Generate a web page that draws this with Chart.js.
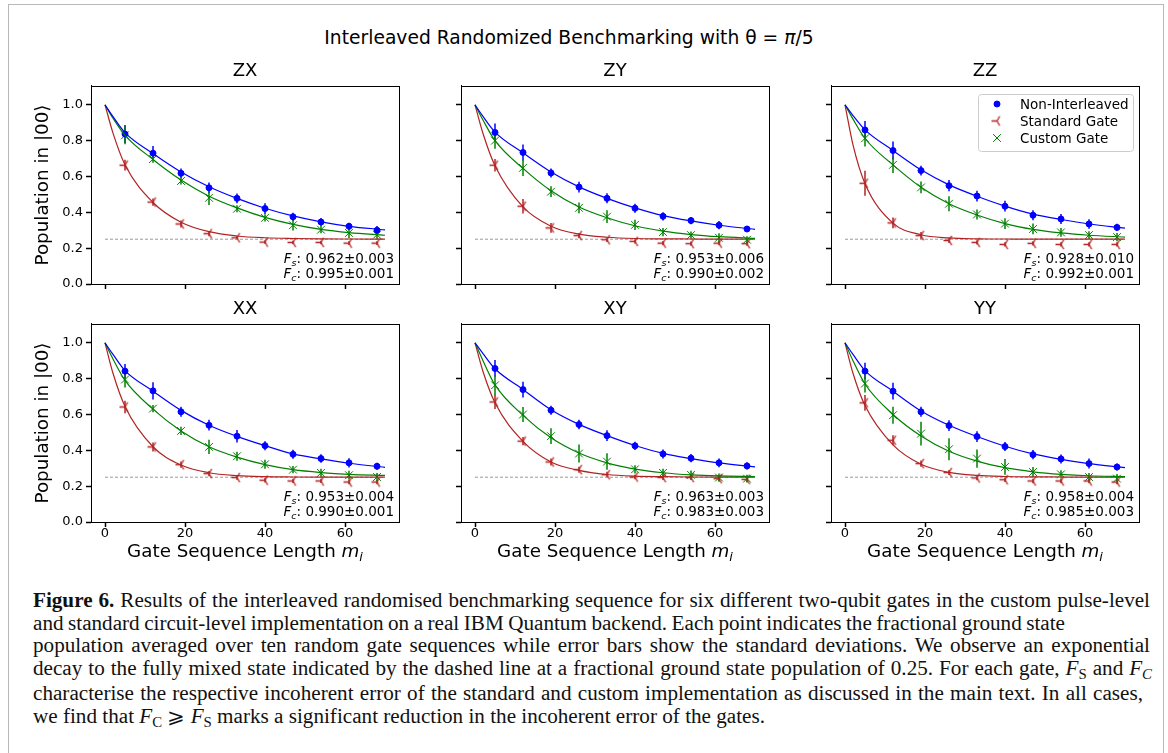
<!DOCTYPE html>
<html>
<head>
<meta charset="utf-8">
<script src="https://cdn.jsdelivr.net/npm/chart.js@4.4.1/dist/chart.umd.min.js"></script>
<style>
  html, body { margin: 0; padding: 0; background: #fff; }
  body { width: 1168px; height: 753px; position: relative; overflow: hidden; font-family: "DejaVu Sans", sans-serif; }
  #frame { position: absolute; left: 8px; top: 4px; width: 1156px; height: 800px; border: 1.5px solid #b8b8b8; box-sizing: border-box; }
  #suptitle { position: absolute; left: 0; width: 1138px; top: 26px; line-height: 24px; text-align: center; font-size: 18.7px; color: #000; }
  canvas { position: absolute; }
  #caption { position: absolute; left: 33px; top: 589px; font-family: "Liberation Serif", serif; font-size: 20px; line-height: 22.6px; color: #111; white-space: nowrap; transform-origin: 0 0; }
  #caption div { width: max-content; }
  #caption sub { font-size: 70%; vertical-align: baseline; position: relative; top: 0.3em; }
</style>
</head>
<body>
<div id="frame"></div>
<div id="suptitle">Interleaved Randomized Benchmarking with θ = <i>π</i>/5</div>
<div id="caption">
  <div><b>Figure 6.</b> Results of the interleaved randomised benchmarking sequence for six different two-qubit gates in the custom pulse-level</div>
  <div>and standard circuit-level implementation on a real IBM Quantum backend. Each point indicates the fractional ground state</div>
  <div>population averaged over ten random gate sequences while error bars show the standard deviations. We observe an exponential</div>
  <div>decay to the fully mixed state indicated by the dashed line at a fractional ground state population of 0.25. For each gate, <i>F</i><sub>S</sub> and <i>F</i><sub><i>C</i></sub></div>
  <div>characterise the respective incoherent error of the standard and custom implementation as discussed in the main text. In all cases,</div>
  <div>we find that <i>F</i><sub>C</sub> ⩾ <i>F</i><sub>S</sub> marks a significant reduction in the incoherent error of the gates.</div>
</div>
<script>
/** INTERLEAVED RB - SIX PANELS **/

var gates = ["ZX", "ZY", "ZZ", "XX", "XY", "YY"];
var seqLengths = [5, 12, 19, 26, 33, 40, 47, 54, 61, 68];
var fitLengths = [0, 2, 5, 12, 19, 26, 33, 40, 47, 54, 61, 70];
var xTicks = [0, 20, 40, 60];
var yTicks = [0, 0.2, 0.4, 0.6, 0.8, 1.0];
var fsLabels = ["0.962±0.003", "0.953±0.006", "0.928±0.010", "0.953±0.004", "0.963±0.003", "0.958±0.004"];
var fcLabels = ["0.995±0.001", "0.990±0.002", "0.992±0.001", "0.990±0.001", "0.983±0.003", "0.985±0.003"];

// ZX
var zxNonInt    = [0.837, 0.730, 0.618, 0.537, 0.478, 0.421, 0.375, 0.346, 0.322, 0.300];
var zxNonIntErr = [0.05, 0.04, 0.027, 0.03, 0.027, 0.03, 0.023, 0.023, 0.02, 0.023];
var zxNonIntFit = [1.0, 0.934, 0.845, 0.728, 0.625, 0.543, 0.478, 0.423, 0.38, 0.347, 0.322, 0.302];
var zxStd       = [0.663, 0.457, 0.335, 0.281, 0.258, 0.234, 0.232, 0.232, 0.228, 0.228];
var zxStdErr    = [0.03, 0.02, 0.02, 0.015, 0.01, 0.01, 0.01, 0.01, 0.01, 0.01];
var zxStdFit    = [1.0, 0.842, 0.665, 0.455, 0.345, 0.292, 0.268, 0.258, 0.254, 0.252, 0.251, 0.25];
var zxCus       = [0.83, 0.697, 0.575, 0.481, 0.42, 0.369, 0.328, 0.303, 0.285, 0.275];
var zxCusErr    = [0.05, 0.02, 0.02, 0.04, 0.02, 0.02, 0.03, 0.02, 0.03, 0.025];
var zxCusFit    = [1.0, 0.925, 0.83, 0.695, 0.58, 0.49, 0.425, 0.372, 0.333, 0.305, 0.287, 0.272];

// ZY
var zyNonInt    = [0.846, 0.734, 0.620, 0.541, 0.478, 0.423, 0.378, 0.354, 0.328, 0.307];
var zyNonIntErr = [0.05, 0.045, 0.025, 0.03, 0.028, 0.025, 0.023, 0.02, 0.023, 0.017];
var zyNonIntFit = [1.0, 0.935, 0.848, 0.732, 0.625, 0.542, 0.478, 0.425, 0.382, 0.352, 0.328, 0.305];
var zyStd       = [0.663, 0.434, 0.313, 0.270, 0.247, 0.238, 0.228, 0.225, 0.228, 0.225];
var zyStdErr    = [0.035, 0.04, 0.027, 0.015, 0.012, 0.012, 0.012, 0.012, 0.012, 0.012];
var zyStdFit    = [1.0, 0.84, 0.66, 0.43, 0.322, 0.278, 0.261, 0.254, 0.252, 0.251, 0.25, 0.25];
var zyCus       = [0.80, 0.648, 0.515, 0.425, 0.376, 0.330, 0.290, 0.273, 0.258, 0.247];
var zyCusErr    = [0.045, 0.045, 0.03, 0.03, 0.035, 0.028, 0.023, 0.02, 0.025, 0.02];
var zyCusFit    = [1.0, 0.915, 0.80, 0.645, 0.52, 0.43, 0.37, 0.325, 0.295, 0.276, 0.264, 0.255];

// ZZ
var zzNonInt    = [0.860, 0.745, 0.633, 0.549, 0.491, 0.434, 0.384, 0.363, 0.335, 0.316];
var zzNonIntErr = [0.05, 0.05, 0.027, 0.032, 0.03, 0.03, 0.028, 0.028, 0.026, 0.02];
var zzNonIntFit = [1.0, 0.94, 0.86, 0.745, 0.637, 0.553, 0.49, 0.435, 0.39, 0.36, 0.335, 0.312];
var zzStd       = [0.562, 0.341, 0.270, 0.243, 0.232, 0.221, 0.227, 0.221, 0.221, 0.221];
var zzStdErr    = [0.07, 0.03, 0.02, 0.014, 0.012, 0.012, 0.012, 0.012, 0.012, 0.012];
var zzStdFit    = [1.0, 0.776, 0.56, 0.34, 0.275, 0.257, 0.252, 0.251, 0.25, 0.25, 0.25, 0.25];
var zzCus       = [0.813, 0.665, 0.539, 0.448, 0.388, 0.337, 0.307, 0.288, 0.273, 0.262];
var zzCusErr    = [0.045, 0.045, 0.033, 0.042, 0.028, 0.03, 0.03, 0.025, 0.022, 0.023];
var zzCusFit    = [1.0, 0.92, 0.812, 0.665, 0.54, 0.448, 0.385, 0.337, 0.305, 0.285, 0.272, 0.262];

// XX
var xxNonInt    = [0.842, 0.732, 0.615, 0.540, 0.479, 0.426, 0.378, 0.354, 0.330, 0.311];
var xxNonIntErr = [0.04, 0.048, 0.028, 0.03, 0.035, 0.025, 0.025, 0.024, 0.026, 0.019];
var xxNonIntFit = [1.0, 0.935, 0.845, 0.73, 0.623, 0.54, 0.478, 0.426, 0.38, 0.352, 0.328, 0.305];
var xxStd       = [0.642, 0.419, 0.320, 0.270, 0.248, 0.233, 0.229, 0.229, 0.223, 0.223];
var xxStdErr    = [0.035, 0.025, 0.017, 0.015, 0.012, 0.012, 0.012, 0.012, 0.012, 0.012];
var xxStdFit    = [1.0, 0.83, 0.645, 0.42, 0.318, 0.275, 0.259, 0.253, 0.251, 0.25, 0.25, 0.25];
var xxCus       = [0.795, 0.633, 0.508, 0.419, 0.367, 0.322, 0.292, 0.274, 0.261, 0.251];
var xxCusErr    = [0.045, 0.02, 0.023, 0.04, 0.025, 0.025, 0.02, 0.023, 0.025, 0.022];
var xxCusFit    = [1.0, 0.91, 0.79, 0.63, 0.508, 0.42, 0.362, 0.32, 0.292, 0.276, 0.266, 0.26];

// XY
var xyNonInt    = [0.857, 0.739, 0.624, 0.544, 0.482, 0.425, 0.380, 0.356, 0.330, 0.313];
var xyNonIntErr = [0.047, 0.044, 0.025, 0.026, 0.03, 0.023, 0.025, 0.023, 0.025, 0.02];
var xyNonIntFit = [1.0, 0.94, 0.855, 0.74, 0.627, 0.545, 0.482, 0.427, 0.383, 0.354, 0.33, 0.308];
var xyStd       = [0.670, 0.451, 0.335, 0.292, 0.264, 0.251, 0.248, 0.248, 0.242, 0.238];
var xyStdErr    = [0.04, 0.023, 0.019, 0.017, 0.016, 0.013, 0.013, 0.013, 0.013, 0.013];
var xyStdFit    = [1.0, 0.84, 0.665, 0.45, 0.335, 0.288, 0.265, 0.256, 0.253, 0.251, 0.25, 0.25];
var xyCus       = [0.763, 0.600, 0.479, 0.382, 0.337, 0.294, 0.274, 0.263, 0.248, 0.242];
var xyCusErr    = [0.055, 0.042, 0.044, 0.05, 0.046, 0.023, 0.023, 0.024, 0.023, 0.021];
var xyCusFit    = [1.0, 0.9, 0.765, 0.595, 0.47, 0.385, 0.33, 0.295, 0.275, 0.263, 0.257, 0.254];

// YY
var yyNonInt    = [0.842, 0.730, 0.615, 0.538, 0.477, 0.421, 0.376, 0.352, 0.326, 0.307];
var yyNonIntErr = [0.047, 0.047, 0.028, 0.03, 0.03, 0.025, 0.026, 0.025, 0.028, 0.019];
var yyNonIntFit = [1.0, 0.935, 0.845, 0.73, 0.62, 0.54, 0.477, 0.423, 0.38, 0.35, 0.326, 0.303];
var yyStd       = [0.665, 0.456, 0.326, 0.276, 0.246, 0.236, 0.229, 0.229, 0.229, 0.223];
var yyStdErr    = [0.044, 0.028, 0.017, 0.014, 0.013, 0.013, 0.013, 0.013, 0.013, 0.013];
var yyStdFit    = [1.0, 0.83, 0.65, 0.43, 0.322, 0.277, 0.26, 0.254, 0.252, 0.251, 0.25, 0.25];
var yyCus       = [0.773, 0.596, 0.493, 0.406, 0.354, 0.307, 0.279, 0.266, 0.251, 0.242];
var yyCusErr    = [0.05, 0.047, 0.066, 0.062, 0.051, 0.044, 0.028, 0.023, 0.023, 0.026];
var yyCusFit    = [1.0, 0.9, 0.77, 0.6, 0.48, 0.395, 0.34, 0.303, 0.28, 0.266, 0.258, 0.254];

var mixedLevel = 0.25;

var panels = [
    [zxNonInt, zxNonIntErr, zxNonIntFit, zxStd, zxStdErr, zxStdFit, zxCus, zxCusErr, zxCusFit],
    [zyNonInt, zyNonIntErr, zyNonIntFit, zyStd, zyStdErr, zyStdFit, zyCus, zyCusErr, zyCusFit],
    [zzNonInt, zzNonIntErr, zzNonIntFit, zzStd, zzStdErr, zzStdFit, zzCus, zzCusErr, zzCusFit],
    [xxNonInt, xxNonIntErr, xxNonIntFit, xxStd, xxStdErr, xxStdFit, xxCus, xxCusErr, xxCusFit],
    [xyNonInt, xyNonIntErr, xyNonIntFit, xyStd, xyStdErr, xyStdFit, xyCus, xyCusErr, xyCusFit],
    [yyNonInt, yyNonIntErr, yyNonIntFit, yyStd, yyStdErr, yyStdFit, yyCus, yyCusErr, yyCusFit]
];

var BLUE = '#0000ff', RED = '#b22222', GREEN = '#008000';
var FONT = '"DejaVu Sans", sans-serif';
var LABEL_SIZE = 18.3;

// axes boxes of the figure
var colLeft = [91, 461, 831], rowTop = [86, 324];
var AX_W = 308, AX_H = 198, Y_W = 75, X_H = 60, TITLE_H = 25, PAD_R = 10;

// matplotlib "tri_left" marker
function triLeft(color) {
    var c = document.createElement('canvas');
    c.width = 15; c.height = 15;
    var g = c.getContext('2d');
    g.strokeStyle = color; g.lineWidth = 1.3;
    var r = 5.5, cx = 7.5, cy = 7.5;
    g.beginPath();
    g.moveTo(cx, cy); g.lineTo(cx - r, cy);
    g.moveTo(cx, cy); g.lineTo(cx + r * 0.5, cy - r * 0.866);
    g.moveTo(cx, cy); g.lineTo(cx + r * 0.5, cy + r * 0.866);
    g.stroke();
    return c;
}
var triMarker = triLeft(RED);

function pts(xs, ys) {
    return xs.map(function (x, i) { return {x: x, y: ys[i]}; });
}

// vertical error bars, drawn through the scales
var errorBars = {
    id: 'errorBars',
    beforeDatasetsDraw: function (chart) {
        var ctx = chart.ctx, xs = chart.scales.x, ys = chart.scales.y;
        chart.data.datasets.forEach(function (ds) {
            if (!ds.errors) return;
            ctx.save();
            ctx.strokeStyle = ds.pointBorderColor; ctx.lineWidth = 1.5;
            ds.data.forEach(function (p, k) {
                var px = xs.getPixelForValue(p.x);
                ctx.beginPath();
                ctx.moveTo(px, ys.getPixelForValue(p.y - ds.errors[k]));
                ctx.lineTo(px, ys.getPixelForValue(p.y + ds.errors[k]));
                ctx.stroke();
            });
            ctx.restore();
        });
    }
};

// frame, F_s/F_c text, x label, legend
var panelDecor = {
    id: 'panelDecor',
    afterDraw: function (chart) {
        var o = chart.options.plugins.panelDecor;
        var ctx = chart.ctx, a = chart.chartArea;
        ctx.save();
        ctx.strokeStyle = '#000'; ctx.lineWidth = 1;
        ctx.strokeRect(a.left + 0.5, a.top + 0.5, a.right - a.left, a.bottom - a.top);

        ctx.fillStyle = '#000';
        ctx.textBaseline = 'alphabetic';
        function fLine(sub, val, y) {
            var x = a.right - 5;
            ctx.textAlign = 'right';
            ctx.font = '13.5px ' + FONT;
            var s = ': ' + val;
            ctx.fillText(s, x, y);
            x -= ctx.measureText(s).width;
            ctx.font = 'italic 9.5px ' + FONT;
            ctx.fillText(sub, x, y + 2.5);
            x -= ctx.measureText(sub).width;
            ctx.font = 'italic 13.5px ' + FONT;
            ctx.fillText('F', x, y);
        }
        fLine('s', o.fs, a.bottom - 21);
        fLine('c', o.fc, a.bottom - 6);

        if (o.xLabel) {
            ctx.textAlign = 'left';
            var t1 = 'Gate Sequence Length ';
            var big = LABEL_SIZE + 'px ', small = (LABEL_SIZE * 0.7).toFixed(1) + 'px ';
            ctx.font = big + FONT; var w1 = ctx.measureText(t1).width;
            ctx.font = 'italic ' + big + FONT; var w2 = ctx.measureText('m').width;
            ctx.font = 'italic ' + small + FONT; var w3 = ctx.measureText('i').width;
            var x0 = (a.left + a.right) / 2 - (w1 + w2 + w3) / 2, yb = a.bottom + 35;
            ctx.font = big + FONT; ctx.fillText(t1, x0, yb);
            ctx.font = 'italic ' + big + FONT; ctx.fillText('m', x0 + w1, yb);
            ctx.font = 'italic ' + small + FONT; ctx.fillText('i', x0 + w1 + w2, yb + 4);
        }

        if (o.legend) {
            var fr = a.right - 6 - 155, ft = a.top + 8;
            ctx.beginPath();
            if (ctx.roundRect) ctx.roundRect(fr + 0.5, ft + 0.5, 155, 57, 3); else ctx.rect(fr + 0.5, ft + 0.5, 155, 57);
            ctx.fillStyle = 'rgba(255,255,255,0.8)'; ctx.fill();
            ctx.strokeStyle = '#cccccc'; ctx.stroke();
            var items = chart.data.datasets.filter(function (d) { return d.legendRow !== undefined; });
            items.forEach(function (d) {
                var yy = ft + 10 + d.legendRow * 17;
                ctx.fillStyle = d.pointBackgroundColor; ctx.strokeStyle = d.pointBorderColor;
                ctx.lineWidth = d.pointBorderWidth;
                Chart.helpers.drawPoint(ctx, {pointStyle: d.pointStyle, radius: d.pointRadius, borderWidth: d.pointBorderWidth, rotation: 0}, fr + 19, yy);
                ctx.fillStyle = '#000';
                ctx.font = '13.5px ' + FONT; ctx.textAlign = 'left'; ctx.textBaseline = 'middle';
                ctx.fillText(d.label, fr + 42, yy + 1);
            });
        }
        ctx.restore();
    }
};

panels.forEach(function (p, i) {
    var col = i % 3, row = Math.floor(i / 3);
    var cv = document.createElement('canvas');
    cv.width = Y_W + AX_W + PAD_R; cv.height = TITLE_H + AX_H + X_H;
    cv.style.left = (colLeft[col] - Y_W) + 'px';
    cv.style.top = (rowTop[row] - TITLE_H) + 'px';
    document.body.appendChild(cv);

    new Chart(cv, {
        type: 'scatter',
        data: {
            datasets: [
                { label: 'fit', data: pts(fitLengths, p[2]), showLine: true, borderColor: BLUE, borderWidth: 1.2, pointRadius: 0, cubicInterpolationMode: 'monotone', order: 1 },
                { label: 'fit', data: pts(fitLengths, p[8]), showLine: true, borderColor: GREEN, borderWidth: 1.2, pointRadius: 0, cubicInterpolationMode: 'monotone', order: 1 },
                { label: 'fit', data: pts(fitLengths, p[5]), showLine: true, borderColor: RED, borderWidth: 1.2, pointRadius: 0, cubicInterpolationMode: 'monotone', order: 1 },
                { label: 'mixed', data: [{x: 0, y: mixedLevel}, {x: 70, y: mixedLevel}], showLine: true, borderColor: '#999999', borderWidth: 1, borderDash: [3, 2], pointRadius: 0, order: 3 },
                { label: 'Non-Interleaved', legendRow: 0, data: pts(seqLengths, p[0]), errors: p[1], pointStyle: 'circle', pointRadius: 3, pointBackgroundColor: BLUE, pointBorderColor: BLUE, pointBorderWidth: 1, order: 2 },
                { label: 'Standard Gate', legendRow: 1, data: pts(seqLengths, p[3]), errors: p[4], pointStyle: triMarker, pointRadius: 5, pointBackgroundColor: RED, pointBorderColor: RED, pointBorderWidth: 1.3, order: 2 },
                { label: 'Custom Gate', legendRow: 2, data: pts(seqLengths, p[6]), errors: p[7], pointStyle: 'crossRot', pointRadius: 5.5, pointBackgroundColor: GREEN, pointBorderColor: GREEN, pointBorderWidth: 1, order: 2 }
            ]
        },
        options: {
            responsive: false,
            animation: false,
            events: [],
            layout: { padding: { left: 0, right: PAD_R, top: 0, bottom: 0 } },
            scales: {
                x: {
                    type: 'linear', min: -3.5, max: 73.5,
                    afterFit: function (s) { s.height = X_H; },
                    afterBuildTicks: function (s) { s.ticks = xTicks.map(function (v) { return {value: v}; }); },
                    grid: { drawOnChartArea: false, drawTicks: true, tickLength: 5, tickColor: '#000', tickWidth: 1.5 },
                    border: { display: true, color: '#000', width: 1 },
                    ticks: { display: row === 1, color: '#000', padding: 0, font: { family: FONT, size: 13, lineHeight: 1 }, maxRotation: 0 }
                },
                y: {
                    type: 'linear', min: 0, max: 1.105,
                    afterFit: function (s) { s.width = Y_W; },
                    afterBuildTicks: function (s) { s.ticks = yTicks.map(function (v) { return {value: v}; }); },
                    grid: { drawOnChartArea: false, drawTicks: true, tickLength: 5, tickColor: '#000', tickWidth: 1.5 },
                    border: { display: true, color: '#000', width: 1 },
                    ticks: { display: col === 0, color: '#000', padding: 3, font: { family: FONT, size: 13 },
                             callback: function (v) { return v.toFixed(1); } },
                    title: { display: col === 0, text: 'Population in |00⟩', color: '#000',
                             font: { family: FONT, size: LABEL_SIZE, lineHeight: 1.2 }, padding: { top: 16, bottom: 0 } }
                }
            },
            plugins: {
                legend: { display: false },
                tooltip: { enabled: false },
                title: { display: true, text: gates[i], fullSize: false, color: '#000',
                         font: { family: FONT, size: 18, weight: 'normal', lineHeight: 1.2 }, padding: { top: 0, bottom: 3.4 } },
                panelDecor: { fs: fsLabels[i], fc: fcLabels[i], xLabel: row === 1, legend: i === 2 }
            }
        },
        plugins: [errorBars, panelDecor]
    });
});

// caption: one horizontal scale from the last (natural) line, then justify the others by word spacing
var lineEnds = [1150, 1065, 1150, 1152, 1143, 765];
var cap = document.getElementById('caption');
var lines = cap.querySelectorAll('div');
var scale = (lineEnds[5] - 33) / lines[5].getBoundingClientRect().width;
cap.style.transform = 'scaleX(' + scale + ')';
lines.forEach(function (el, k) {
    if (k === 5) return;
    var w = el.getBoundingClientRect().width / scale;
    var target = (lineEnds[k] - 33) / scale;
    var spaces = (el.textContent.trim().match(/ /g) || []).length;
    el.style.wordSpacing = ((target - w) / spaces) + 'px';
});
</script>
</body>
</html>
